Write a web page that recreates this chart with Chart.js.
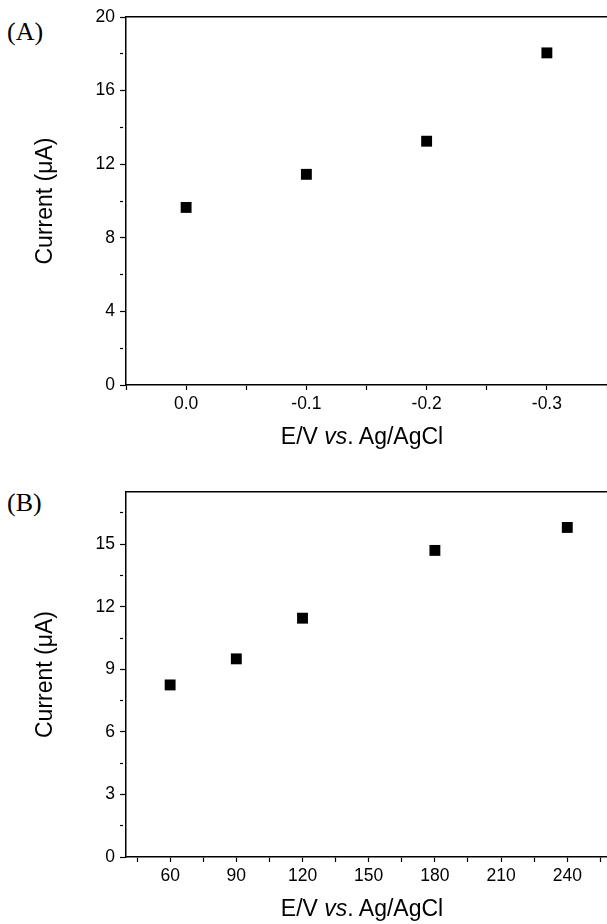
<!DOCTYPE html>
<html>
<head>
<meta charset="utf-8">
<script src="https://cdn.jsdelivr.net/npm/chart.js@4.4.0/dist/chart.umd.min.js"></script>
<style>
    body { margin: 0; background: #fff; width: 607px; height: 924px; overflow: hidden; position: relative; }
    .panel { position: absolute; left: 0; width: 607px; }
    .tag { position: absolute; left: 7px; font-family: "Liberation Serif", serif; font-size: 26px; line-height: 26px; color: #000; }
    .xtitle { position: absolute; left: 127px; width: 470px; text-align: center; font-family: "Liberation Sans", Arial, sans-serif; font-size: 23px; line-height: 23px; color: #000; }
</style>
</head>
<body>
<div class="tag" style="top:19px">(A)</div>
<div class="panel" style="top:0; height:460px"><canvas id="chartA" width="607" height="460"></canvas></div>
<div class="xtitle" style="top:425px">E/V <i>vs</i>. Ag/AgCl</div>

<div class="tag" style="top:490px">(B)</div>
<div class="panel" style="top:475px; height:449px"><canvas id="chartB" width="607" height="449"></canvas></div>
<div class="xtitle" style="top:897px">E/V <i>vs</i>. Ag/AgCl</div>

<script>
// Panel A data
const potentialA = [0.0, -0.1, -0.2, -0.3];
const currentA = [9.65, 11.45, 13.25, 18.05];
const ticksAX = [0.0, -0.1, -0.2, -0.3];
const ticksAY = [0, 4, 8, 12, 16, 20];

// Panel B data
const valuesB = [60, 90, 120, 180, 240];
const currentB = [8.25, 9.5, 11.45, 14.7, 15.8];
const ticksBX = [60, 90, 120, 150, 180, 210, 240];
const ticksBY = [0, 3, 6, 9, 12, 15];

const FONT = '"Liberation Sans", Arial, sans-serif';

// major ticks from the list, minor ticks half way between (and one step outside)
function withMinor(major, min, max) {
    const half = (major[1] - major[0]) / 2;
    const lo = Math.min(min, max), hi = Math.max(min, max);
    const out = [];
    for (let k = -2; k <= major.length * 2; k++) {
        const v = Math.round((major[0] + k * half) * 1000) / 1000;
        if (v < lo - 1e-9 || v > hi + 1e-9) continue;
        out.push({ value: v, major: k % 2 === 0 && k >= 0 && k / 2 < major.length });
    }
    return out.sort((a, b) => a.value - b.value);
}

function axis(opts) {
    return {
        type: 'linear',
        position: opts.position,
        min: opts.min,
        max: opts.max,
        reverse: !!opts.reverse,
        border: { display: true, color: '#000', width: 1.5 },
        grid: {
            display: true,
            drawOnChartArea: false,
            drawTicks: true,
            tickLength: opts.tickLength,
            tickWidth: 1.2,
            tickColor: '#000',
            tickBorderDash: ctx => (ctx.tick && !ctx.tick.major && opts.minorLength) ? [opts.minorLength, 50] : []
        },
        ticks: {
            autoSkip: false,
            maxRotation: 0,
            padding: opts.padding,
            color: '#000',
            font: { family: FONT, size: 17.5 },
            callback: (v, i, ticks) => ticks[i] && ticks[i].major ? opts.format(v) : ''
        },
        title: opts.title ? {
            display: true,
            text: opts.title,
            color: '#000',
            font: { family: FONT, size: 23 },
            padding: { top: 32, bottom: 0 }
        } : { display: false },
        afterBuildTicks: scale => { scale.ticks = withMinor(opts.major, opts.min, opts.max); },
        afterFit: opts.fit
    };
}

function topBorder(min, max, reverse) {
    return {
        type: 'linear',
        position: 'top',
        min: min,
        max: max,
        reverse: reverse,
        border: { display: true, color: '#000', width: 1.5 },
        grid: { display: false, drawTicks: false },
        ticks: { display: false },
        afterFit: scale => { scale.height = 0; }
    };
}

function makePanel(id, xs, ys, cfg) {
    const ctx = document.getElementById(id).getContext('2d');
    return new Chart(ctx, {
        type: 'scatter',
        data: {
            datasets: [{
                data: xs.map((x, i) => ({ x: x, y: ys[i] })),
                pointStyle: 'rect',
                pointRadius: 7.7,
                pointHoverRadius: 7.7,
                backgroundColor: '#000',
                borderColor: '#000',
                borderWidth: 0,
                showLine: false
            }]
        },
        options: {
            responsive: false,
            animation: false,
            layout: { autoPadding: false, padding: { top: 17, left: 0, right: 0, bottom: 0 } },
            plugins: { legend: { display: false }, tooltip: { enabled: false } },
            scales: {
                x: axis({
                    position: 'bottom', min: cfg.xMin, max: cfg.xMax, reverse: cfg.reverse,
                    major: cfg.xTicks, tickLength: 5, minorLength: 0, padding: 4,
                    format: cfg.xFormat,
                    fit: scale => { scale.height = cfg.xHeight; }
                }),
                x2: topBorder(cfg.xMin, cfg.xMax, cfg.reverse),
                y: axis({
                    position: 'left', min: cfg.yMin, max: cfg.yMax,
                    major: cfg.yTicks, tickLength: 6, minorLength: 3, padding: 5,
                    format: v => String(v),
                    title: 'Current (\u03bcA)',
                    fit: scale => { scale.width = 126; }
                })
            }
        }
    });
}

makePanel('chartA', potentialA, currentA, {
    xMin: -0.35, xMax: 0.05, reverse: true, xTicks: ticksAX,
    xFormat: v => (Math.abs(v) < 1e-9 ? 0 : v).toFixed(1),
    yMin: 0, yMax: 20, yTicks: ticksAY, xHeight: 75
});

makePanel('chartB', valuesB, currentB, {
    xMin: 40, xMax: 258, reverse: false, xTicks: ticksBX,
    xFormat: v => String(v),
    yMin: 0, yMax: 17.5, yTicks: ticksBY, xHeight: 67
});
</script>
</body>
</html>
